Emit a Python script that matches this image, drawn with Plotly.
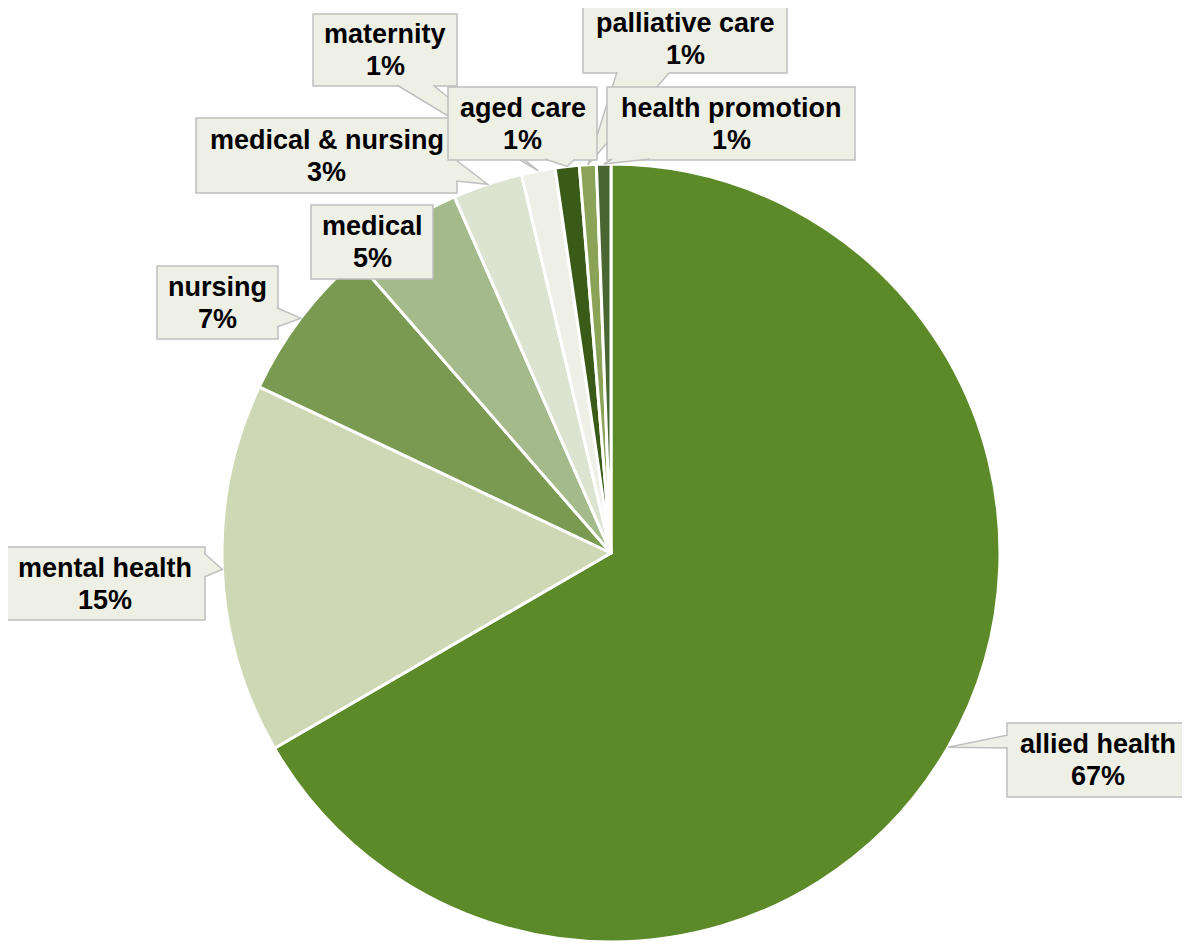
import math
import plotly.graph_objects as go

# ---- data ----
labels = ["allied health", "mental health", "nursing", "medical", "medical & nursing",
          "maternity", "aged care", "palliative care", "health promotion"]
values = [66.7, 15.4, 6.6, 4.8, 2.9, 1.4, 1.0, 0.7, 0.6]
colors = ["#5D8A29", "#CFD8B5", "#7A9A52", "#A5BA8A", "#DCE3D0",
          "#EEF0E8", "#3A5A18", "#8BA356", "#4A6632"]

# ---- layout constants (pixels) ----
W, H = 1190, 947
OFF = 8  # page body margin
# target pie on screen: center (611, 553), radius 389
L, T = 222 - OFF, 164 - OFF
pw = ph = 778
R, B = W - L - pw, H - T - ph
cx, cy = L + pw / 2, T + ph / 2
rad = min(pw, ph) / 2

# callout boxes in screen pixels: (x0, y0, x1, y1, pointer base points, text y shift)
boxes = {
    "allied health": (1007, 723, 1188, 797, [(1008, 735), (1008, 748)], 0),
    "mental health": (5, 547, 205, 620, [(204, 553), (204, 577)], 0),
    "nursing": (157, 266, 278, 339, [(277, 308), (277, 327)], 0),
    "medical": (311, 205, 433, 279, None, 0),
    "medical & nursing": (196, 118, 457, 193, [(456, 160), (456, 181)], 0),
    "maternity": (313, 14, 457, 86, [(397, 85), (433, 85)], 0),
    "palliative care": (583, 1, 787, 73, [(617, 72), (670, 72)], 2),
    "aged care": (448, 87, 597, 160, [(545, 159), (575, 159)], 0),
    "health promotion": (607, 87, 855, 160, [(612, 159), (650, 159)], 0),
}
draw_order = ["allied health", "mental health", "nursing", "medical", "medical & nursing",
              "maternity", "palliative care", "aged care", "health promotion"]


def fig2paper(x, y):
    return (x - L) / pw, (T + ph - y) / ph


def scr2paper(x, y):
    return fig2paper(x - OFF, y - OFF)


total = sum(values)
mid = {}
cum = 0.0
for lab, v in zip(labels, values):
    mid[lab] = (cum + v / 2) / total * 2 * math.pi
    cum += v

fig = go.Figure(go.Pie(
    labels=labels, values=values, sort=False, direction="clockwise", rotation=0,
    marker=dict(colors=colors, line=dict(color="white", width=3)),
    textinfo="none", hoverinfo="label+percent", showlegend=False,
    domain=dict(x=[0, 1], y=[0, 1]),
))

shapes = []
annotations = []
fill = "#EEF0E6"
edge = "#BFBFBF"
font = dict(family="Arial, Liberation Sans, sans-serif", size=27, color="black")
for lab in draw_order:
    x0, y0, x1, y1, base, shift = boxes[lab]
    a0 = scr2paper(x0, y0)
    a1 = scr2paper(x1, y1)
    shapes.append(dict(type="rect", xref="paper", yref="paper",
                       x0=a0[0], y0=a1[1], x1=a1[0], y1=a0[1],
                       fillcolor=fill, line=dict(color=edge, width=1.5), layer="above"))
    if base is not None:
        th = mid[lab]
        apx = cx + rad * math.sin(th)
        apy = cy - rad * math.cos(th)
        b1 = scr2paper(*base[0])
        b2 = scr2paper(*base[1])
        ap = fig2paper(apx, apy)
        path = f"M {b1[0]},{b1[1]} L {ap[0]},{ap[1]} L {b2[0]},{b2[1]}"
        shapes.append(dict(type="path", xref="paper", yref="paper", path=path,
                           fillcolor=fill, line=dict(color=edge, width=1.5), layer="above"))
    pct = math.floor(values[labels.index(lab)] / total * 100 + 0.5)
    mx, my = (x0 + x1) / 2, (y0 + y1) / 2 + shift
    for txt, dy in ((lab, -16), (f"{pct}%", 16)):
        c = scr2paper(mx, my + dy)
        annotations.append(dict(xref="paper", yref="paper", x=c[0], y=c[1],
                                text=f"<b>{txt}</b>", showarrow=False, borderpad=0,
                                xanchor="center", yanchor="middle", font=font))

fig.update_layout(width=W, height=H, margin=dict(l=L, r=R, t=T, b=B, autoexpand=False),
                  paper_bgcolor="white", plot_bgcolor="white",
                  shapes=shapes, annotations=annotations)
fig.write_html("out.html")
